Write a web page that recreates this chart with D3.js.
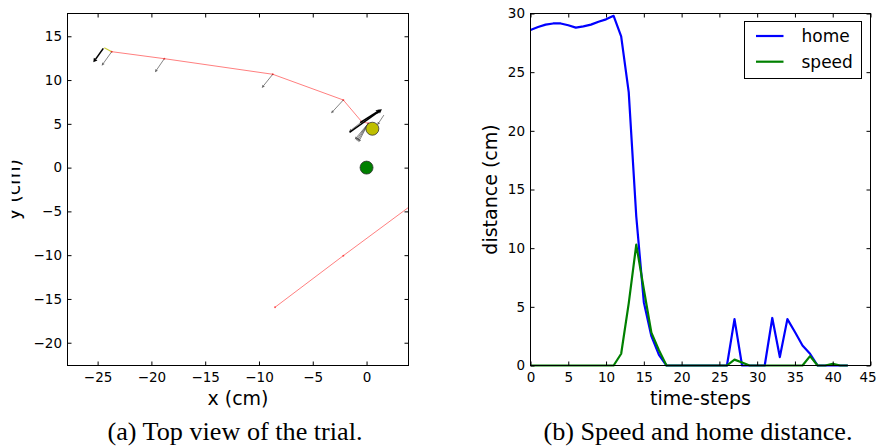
<!DOCTYPE html>
<html>
<head>
<meta charset="utf-8">
<script src="https://cdn.jsdelivr.net/npm/d3@7"></script>
<style>
  html, body { margin: 0; padding: 0; background: #fff; }
  svg { display: block; }
</style>
</head>
<body>
<svg id="chart" width="878" height="448"></svg>
<script>
// ---------------- Data: (a) top view ----------------
const trajX = [-23.69, -18.8, -8.72, -2.16, -0.45, 0.17];
const trajY = [13.24, 12.44, 10.66, 7.72, 5.24, 5.06];
const startX = [-24.38, -23.69];
const startY = [13.69, 13.24];
const returnX = [-8.51, -2.16, 4.5];
const returnY = [-15.95, -10.06, -4.0];
const homePos = [0, 0];
const ballPos = [0.54, 4.44];
// gray arrows (base x, base y, dx, dy)
const grayX = [-23.69, -18.8, -8.72, -2.16, -0.45, 0.17, 0.17, 0.17, 0.17, 1.61];
const grayY = [13.24, 12.44, 10.66, 7.72, 5.24, 5.06, 5.06, 5.06, 5.06, 6.0];
const grayU = [-0.93, -0.87, -1.02, -1.14, -1.18, -1.27, -1.15, -1.03, -0.92, -0.61];
const grayV = [-1.6, -1.56, -1.56, -1.52, -1.14, -1.86, -1.96, -2.06, -2.16, -1.14];
// black arrows
const blackX = [-24.47, -1.58, -0.6];
const blackY = [13.62, 4.03, 5.13];
const blackU = [-0.93, 3.01, 1.86];
const blackV = [-1.6, 2.63, 1.44];
const topXTicks = [-25, -20, -15, -10, -5, 0];
const topYTicks = [-20, -15, -10, -5, 0, 5, 10, 15];

// ---------------- Data: (b) speed and home distance ----------------
const timeSteps = [0,1,2,3,4,5,6,7,8,9,10,11,12,13,14,15,16,17,18,19,20,21,22,23,24,25,26,27,28,29,30,31,32,33,34,35,36,37,38,39,40,41,42];
const homeDist = [28.6, 28.85, 29.05, 29.15, 29.15, 29.0, 28.8, 28.9, 29.05, 29.3, 29.5, 29.8,
                  28.05, 23.3, 12.7, 5.4, 2.5, 0.9, 0, 0, 0, 0, 0, 0, 0, 0, 0, 3.95, 0, 0, 0, 0,
                  4.05, 0.72, 3.95, 2.85, 1.7, 1.0, 0, 0, 0, 0, 0];
const speed = [0, 0, 0, 0, 0, 0, 0, 0, 0, 0, 0, 0,
               1.0, 5.3, 10.3, 6.5, 2.8, 1.3, 0, 0, 0, 0, 0, 0, 0, 0, 0, 0.5, 0.25, 0, 0, 0,
               0, 0, 0, 0, 0, 0.8, 0, 0, 0.15, 0, 0];
const distXTicks = [0, 5, 10, 15, 20, 25, 30, 35, 40, 45];
const distYTicks = [0, 5, 10, 15, 20, 25, 30];
const seriesNames = ["home", "speed"];
const seriesColors = ["#0000ff", "#008000"];

// ---------------- Drawing ----------------
const svg = d3.select("#chart");
svg.append("rect").attr("width", 878).attr("height", 448).attr("fill", "#fff");
const FONT = "'DejaVu Sans', sans-serif";
const SERIF = "'Liberation Serif', 'Times New Roman', serif";
const TICKFS = "13.5px";

function frameAxes(g, x, y, xTicks, yTicks, L, R, T, B) {
  const fmt = d3.format("d");
  const xb = g.append("g").attr("transform", `translate(0,${B})`)
    .call(d3.axisBottom(x).tickValues(xTicks).tickSize(-4).tickSizeOuter(0).tickPadding(7).tickFormat(fmt));
  g.append("g").attr("transform", `translate(0,${T})`)
    .call(d3.axisTop(x).tickValues(xTicks).tickSize(-4).tickSizeOuter(0).tickFormat(""));
  g.append("g").attr("transform", `translate(${L},0)`)
    .call(d3.axisLeft(y).tickValues(yTicks).tickSize(-4).tickSizeOuter(0).tickPadding(5.5).tickFormat(fmt));
  g.append("g").attr("transform", `translate(${R},0)`)
    .call(d3.axisRight(y).tickValues(yTicks).tickSize(-4).tickSizeOuter(0).tickFormat(""));
  g.selectAll(".domain").remove();
  g.selectAll(".tick line").attr("stroke", "#000");
  g.selectAll(".tick text").attr("font-family", FONT).attr("font-size", TICKFS).attr("fill", "#000");
  g.append("rect").attr("x", L).attr("y", T).attr("width", R - L).attr("height", B - T)
    .attr("fill", "none").attr("stroke", "#000").attr("stroke-width", 1);
  return xb;
}

function arrow(g, x1, y1, x2, y2, color, sw, hl, hw, op) {
  const dx = x2 - x1, dy = y2 - y1, len = Math.hypot(dx, dy) || 1;
  const ux = dx / len, uy = dy / len;
  const bx = x2 - ux * hl, by = y2 - uy * hl;
  g.append("line").attr("x1", x1).attr("y1", y1).attr("x2", bx).attr("y2", by)
    .attr("stroke", color).attr("stroke-width", sw).attr("opacity", op);
  g.append("path")
    .attr("d", `M${x2},${y2}L${bx - uy * hw},${by + ux * hw}L${bx + uy * hw},${by - ux * hw}Z`)
    .attr("fill", color).attr("opacity", op);
}

// ---- (a) ----
{
  const L = 67.5, R = 408.5, T = 13.5, B = 365.5;
  const x = d3.scaleLinear().domain([-27.8, 3.9]).range([L, R]);
  const y = d3.scaleLinear().domain([-22.6, 17.6]).range([B, T]);
  const g = svg.append("g");
  svg.append("clipPath").attr("id", "clipA").append("rect")
    .attr("x", L).attr("y", T).attr("width", R - L).attr("height", B - T);
  const p = g.append("g").attr("clip-path", "url(#clipA)");
  const line = d3.line().x(d => x(d[0])).y(d => y(d[1]));

  p.append("path").attr("d", line(startX.map((v, i) => [v, startY[i]])))
    .attr("fill", "none").attr("stroke", "#bfbf00").attr("stroke-width", 1.2).attr("opacity", 0.8);
  p.append("path").attr("d", line(trajX.map((v, i) => [v, trajY[i]])))
    .attr("fill", "none").attr("stroke", "#ff0000").attr("stroke-width", 1).attr("opacity", 0.5);
  p.append("path").attr("d", line(returnX.map((v, i) => [v, returnY[i]])))
    .attr("fill", "none").attr("stroke", "#ff0000").attr("stroke-width", 1).attr("opacity", 0.5);
  trajX.forEach((v, i) => p.append("circle").attr("cx", x(v)).attr("cy", y(trajY[i])).attr("r", 1)
    .attr("fill", "#ff0000").attr("opacity", 0.6));
  returnX.slice(0, 2).forEach((v, i) => p.append("circle").attr("cx", x(v)).attr("cy", y(returnY[i])).attr("r", 1)
    .attr("fill", "#ff0000").attr("opacity", 0.6));

  grayX.forEach((v, i) => arrow(p, x(v), y(grayY[i]), x(v + grayU[i]), y(grayY[i] + grayV[i]), "#333", 0.8, 3, 1.4, 0.75));
  blackX.forEach((v, i) => arrow(p, x(v), y(blackY[i]), x(v + blackU[i]), y(blackY[i] + blackV[i]), "#000", 1.6, 4, 2.2, 1));

  p.append("circle").attr("cx", x(ballPos[0])).attr("cy", y(ballPos[1])).attr("r", 6.5)
    .attr("fill", "#bfbf00").attr("stroke", "#333").attr("stroke-width", 0.8);
  p.append("circle").attr("cx", x(homePos[0])).attr("cy", y(homePos[1])).attr("r", 6.5)
    .attr("fill", "#008000").attr("stroke", "#333").attr("stroke-width", 0.8);

  frameAxes(g, x, y, topXTicks, topYTicks, L, R, T, B);

  g.append("text").attr("x", (L + R) / 2).attr("y", 405).attr("text-anchor", "middle")
    .attr("font-family", FONT).attr("font-size", "19px").text("x (cm)");
  svg.append("clipPath").attr("id", "clipYL").append("rect")
    .attr("x", 11.7).attr("y", 0).attr("width", 50).attr("height", 448);
  g.append("g").attr("clip-path", "url(#clipYL)")
    .append("text")
    .attr("transform", `translate(20,${(T + B) / 2}) rotate(-90)`).attr("text-anchor", "middle")
    .attr("font-family", FONT).attr("font-size", "19px").text("y (cm)");
  g.append("text").attr("x", 235).attr("y", 440).attr("text-anchor", "middle")
    .attr("font-family", SERIF).attr("font-size", "26.2px")
    .text("(a) Top view of the trial.");
}

// ---- (b) ----
{
  const L = 530.5, R = 870.5, T = 13.5, B = 365.5;
  const x = d3.scaleLinear().domain([0, 45]).range([L, R]);
  const y = d3.scaleLinear().domain([0, 30]).range([B, T]);
  const g = svg.append("g");
  svg.append("clipPath").attr("id", "clipB").append("rect")
    .attr("x", L).attr("y", T - 2).attr("width", R - L).attr("height", B - T + 4);
  const p = g.append("g").attr("clip-path", "url(#clipB)");
  const line = d3.line().x((d, i) => x(timeSteps[i])).y(d => y(d));
  [homeDist, speed].forEach((s, k) => {
    p.append("path").attr("d", line(s)).attr("fill", "none")
      .attr("stroke", seriesColors[k]).attr("stroke-width", 2.2).attr("stroke-linejoin", "round");
  });

  const xb = frameAxes(g, x, y, distXTicks, distYTicks, L, R, T, B);
  // keep the last tick label inside the picture, as in the reference
  xb.selectAll(".tick").filter(d => d === 45).select("text").attr("dx", -3);

  g.append("text").attr("x", (L + R) / 2).attr("y", 405).attr("text-anchor", "middle")
    .attr("font-family", FONT).attr("font-size", "19px").text("time-steps");
  g.append("text").attr("transform", `translate(497,${(T + B) / 2}) rotate(-90)`).attr("text-anchor", "middle")
    .attr("font-family", FONT).attr("font-size", "19px").text("distance (cm)");

  // legend
  const lg = g.append("g");
  lg.append("rect").attr("x", 744.5).attr("y", 21.5).attr("width", 117).attr("height", 57)
    .attr("fill", "#fff").attr("stroke", "#000").attr("stroke-width", 1);
  seriesNames.forEach((n, k) => {
    const yy = 36 + k * 25.7;
    lg.append("line").attr("x1", 756).attr("x2", 783.5).attr("y1", yy).attr("y2", yy)
      .attr("stroke", seriesColors[k]).attr("stroke-width", 2.2);
    lg.append("text").attr("x", 801.5).attr("y", yy).attr("dy", "0.35em")
      .attr("font-family", FONT).attr("font-size", "17px").text(n);
  });

  g.append("text").attr("x", 698).attr("y", 440).attr("text-anchor", "middle")
    .attr("font-family", SERIF).attr("font-size", "26.2px")
    .text("(b) Speed and home distance.");
}
</script>
</body>
</html>
